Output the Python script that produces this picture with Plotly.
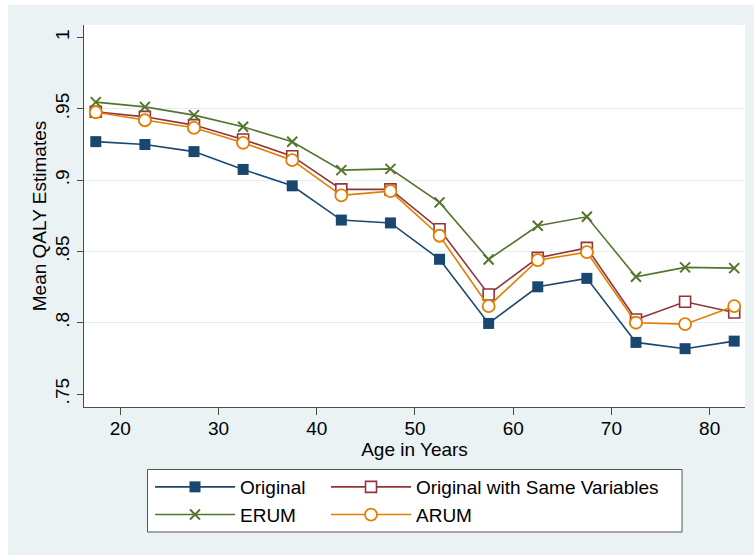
import plotly.graph_objects as go

# ---- data ----
age = [17.5, 22.5, 27.5, 32.5, 37.5, 42.5, 47.5, 52.5, 57.5, 62.5, 67.5, 72.5, 77.5, 82.5]
original = [0.927, 0.925, 0.920, 0.9075, 0.896, 0.872, 0.870, 0.8445, 0.7995, 0.8252, 0.8311, 0.7862, 0.7818, 0.7871]
original_same = [0.948, 0.9444, 0.9386, 0.9285, 0.9168, 0.8935, 0.8935, 0.8656, 0.8198, 0.8455, 0.8525, 0.8023, 0.8147, 0.8072]
erum = [0.9547, 0.9514, 0.9456, 0.9374, 0.9269, 0.907, 0.9079, 0.8844, 0.8444, 0.868, 0.8743, 0.8322, 0.8388, 0.8383]
arum = [0.9476, 0.942, 0.9367, 0.9262, 0.914, 0.8893, 0.8923, 0.861, 0.8116, 0.8439, 0.8495, 0.800, 0.799, 0.8116]

y_tickvals = [0.75, 0.8, 0.85, 0.9, 0.95, 1.0]
y_ticktext = [".75", ".8", ".85", ".9", ".95", "1"]
y_gridvals = [0.8, 0.85, 0.9, 0.95]
x_tickvals = [20, 30, 40, 50, 60, 70, 80]

NAVY = "#1A476F"
MAROON = "#90353B"
GREEN = "#55752F"
ORANGE = "#E37E00"
BG = "#EAF2F3"
AXC = "#4A4A4A"
FONT = "Liberation Sans, Arial, sans-serif"

fig = go.Figure()
fig.add_trace(go.Scatter(
    x=age, y=original, name="Original", mode="lines+markers", legend="legend",
    line=dict(color=NAVY, width=1.6),
    marker=dict(symbol="square", size=11, color=NAVY, line=dict(width=0))))
fig.add_trace(go.Scatter(
    x=age, y=original_same, name="Original with Same Variables", mode="lines+markers", legend="legend2",
    line=dict(color=MAROON, width=1.6),
    marker=dict(symbol="square", size=11, color="white", line=dict(color=MAROON, width=1.6))))
fig.add_trace(go.Scatter(
    x=age, y=erum, name="ERUM", mode="lines+markers", legend="legend",
    line=dict(color=GREEN, width=1.6),
    marker=dict(symbol="x-thin", size=10, color=GREEN, line=dict(color=GREEN, width=2))))
fig.add_trace(go.Scatter(
    x=age, y=arum, name="ARUM", mode="lines+markers", legend="legend2",
    line=dict(color=ORANGE, width=1.6),
    marker=dict(symbol="circle", size=12, color="white", line=dict(color=ORANGE, width=1.8))))

# hidden overlay axis to draw only interior grid lines
fig.add_trace(go.Scatter(x=[age[0]], y=[original[0]], yaxis="y2", mode="markers",
                         marker=dict(opacity=0), showlegend=False, hoverinfo="skip"))

yrange = [0.7409, 1.0088]
W, H = 754, 555
L, R, T, B = 84, 9, 25, 148
pw, ph = W - L - R, H - T - B

def px_x(p):
    return (p - L) / pw

def px_y(p):
    return (H - B - p) / ph

legend_common = dict(
    orientation="v", yanchor="top", xanchor="left",
    bgcolor="rgba(0,0,0,0)", borderwidth=0, itemwidth=80,
    itemsizing="trace", font=dict(size=19), tracegroupgap=0)

fig.update_layout(
    width=W, height=H,
    margin=dict(l=L, r=R, t=T, b=B, pad=0),
    paper_bgcolor=BG, plot_bgcolor="white",
    font=dict(family=FONT, size=19, color="black"),
    showlegend=True,
    xaxis=dict(
        range=[16.3, 83.6], tickvals=x_tickvals, showgrid=False, zeroline=False,
        showline=True, linecolor=AXC, linewidth=1.2, ticks="outside", ticklen=7,
        tickcolor=AXC, tickwidth=1.2, tickfont=dict(size=19), ticklabelstandoff=-3,
        title=dict(text="Age in Years", font=dict(size=19), standoff=2)),
    yaxis=dict(
        range=yrange, tickvals=y_tickvals, ticktext=y_ticktext, tickangle=-90,
        showgrid=False, zeroline=False,
        showline=True, linecolor=AXC, linewidth=1.2, ticks="outside", ticklen=6,
        tickcolor=AXC, tickwidth=1.2, tickfont=dict(size=19),
        title=dict(text="Mean QALY Estimates", font=dict(size=19), standoff=0)),
    yaxis2=dict(
        range=yrange, overlaying="y", side="left", tickvals=y_gridvals,
        showticklabels=False, showgrid=True, gridcolor="#E3ECEE", gridwidth=1.2,
        zeroline=False, showline=False, ticks=""),
    legend=dict(x=px_x(150), y=px_y(468), **legend_common),
    legend2=dict(x=px_x(326), y=px_y(468), **legend_common),
    shapes=[
        # page strips outside the graph region
        dict(type="rect", xref="paper", yref="paper", x0=-0.3, x1=1.2,
             y0=px_y(5), y1=px_y(-5), fillcolor="white", line=dict(width=0), layer="above"),
        dict(type="rect", xref="paper", yref="paper", x0=px_x(-5), x1=px_x(8),
             y0=px_y(600), y1=px_y(-5), fillcolor="white", line=dict(width=0), layer="above"),
        # legend frame
        dict(type="rect", xref="paper", yref="paper", x0=px_x(147.5), x1=px_x(682),
             y0=px_y(532), y1=px_y(469.5), fillcolor="white",
             line=dict(color="#555555", width=1), layer="above"),
    ],
)

fig.write_html("out.html", config={"displayModeBar": False},
               post_script="document.body.style.margin='0';")
